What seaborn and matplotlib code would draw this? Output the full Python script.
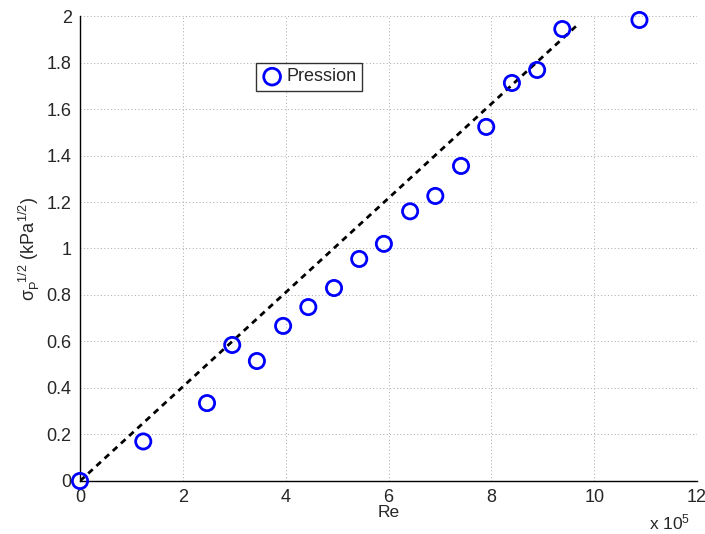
import numpy as np
import pandas as pd
import matplotlib
matplotlib.use("Agg")
import matplotlib.pyplot as plt
import seaborn as sns

# data (Re in units of 1e5)
re_vals = [0.0, 1.23, 2.47, 2.96, 3.44, 3.95, 4.44, 4.94, 5.43, 5.91,
           6.42, 6.91, 7.41, 7.90, 8.40, 8.89, 9.38, 10.88]
sigma_vals = [0.0, 0.17, 0.335, 0.585, 0.516, 0.667, 0.748, 0.830, 0.955, 1.02,
              1.16, 1.226, 1.355, 1.523, 1.712, 1.768, 1.944, 1.983]
fit_x = [0.0, 9.7]
fit_y = [0.0, 1.967]

df = pd.DataFrame({"Re": re_vals, "sigma": sigma_vals})
fit = pd.DataFrame({"Re": fit_x, "sigma": fit_y})

sns.set_style("white")
plt.rcParams["font.family"] = ["Liberation Sans", "DejaVu Sans"]
plt.rcParams["mathtext.fontset"] = "custom"
plt.rcParams["mathtext.rm"] = "Liberation Sans"
plt.rcParams["mathtext.it"] = "Liberation Sans"

fig = plt.figure(figsize=(7.05, 5.34), dpi=100)
ax = fig.add_axes([0.1135, 0.0993, 0.8752, 0.8707])

sns.scatterplot(data=df, x="Re", y="sigma", ax=ax, marker="o", s=120,
                facecolors="none", edgecolor="#0000ff", linewidth=2,
                label="Pression", zorder=3, clip_on=False)
sns.lineplot(data=fit, x="Re", y="sigma", ax=ax, color="black",
             linestyle=(0, (2.2, 1.8)), linewidth=2, zorder=2)

ax.set_xlim(0, 12)
ax.set_ylim(0, 2)
ax.set_xticks(np.arange(0, 13, 2))
ax.set_yticks(np.arange(0, 2.01, 0.2))
ax.set_xticklabels([str(v) for v in range(0, 13, 2)])
ax.set_yticklabels(["0", "0.2", "0.4", "0.6", "0.8", "1", "1.2", "1.4",
                    "1.6", "1.8", "2"])
ax.grid(True, linestyle=(0, (1, 2.5)), color="#a8a8a8", linewidth=0.7)
ax.tick_params(axis="both", direction="in", length=4, width=1,
               labelsize=13, color="black")
ax.tick_params(axis="x", pad=6)
ax.tick_params(axis="y", pad=6)

for side in ["top", "right"]:
    ax.spines[side].set_visible(False)
for side in ["left", "bottom"]:
    ax.spines[side].set_color("black")
    ax.spines[side].set_linewidth(1)

ax.set_xlabel("Re", fontsize=12.5, labelpad=-1)
ax.set_ylabel(r"$\sigma_{\rm P}^{\ \ 1/2}\ ({\rm kPa}^{1/2})$", fontsize=13,
              labelpad=3)
fig.text(0.921, 0.008, r"x 10$^{5}$", fontsize=12.5)

leg = ax.legend(loc="upper left", bbox_to_anchor=(0.285, 0.899),
                frameon=True, fancybox=False, fontsize=13,
                handletextpad=0.2, borderpad=0.3, handlelength=1.2,
                borderaxespad=0, markerscale=1.1)
leg.get_frame().set_edgecolor("black")
leg.get_frame().set_linewidth(1)

fig.savefig("out.png", dpi=100)
